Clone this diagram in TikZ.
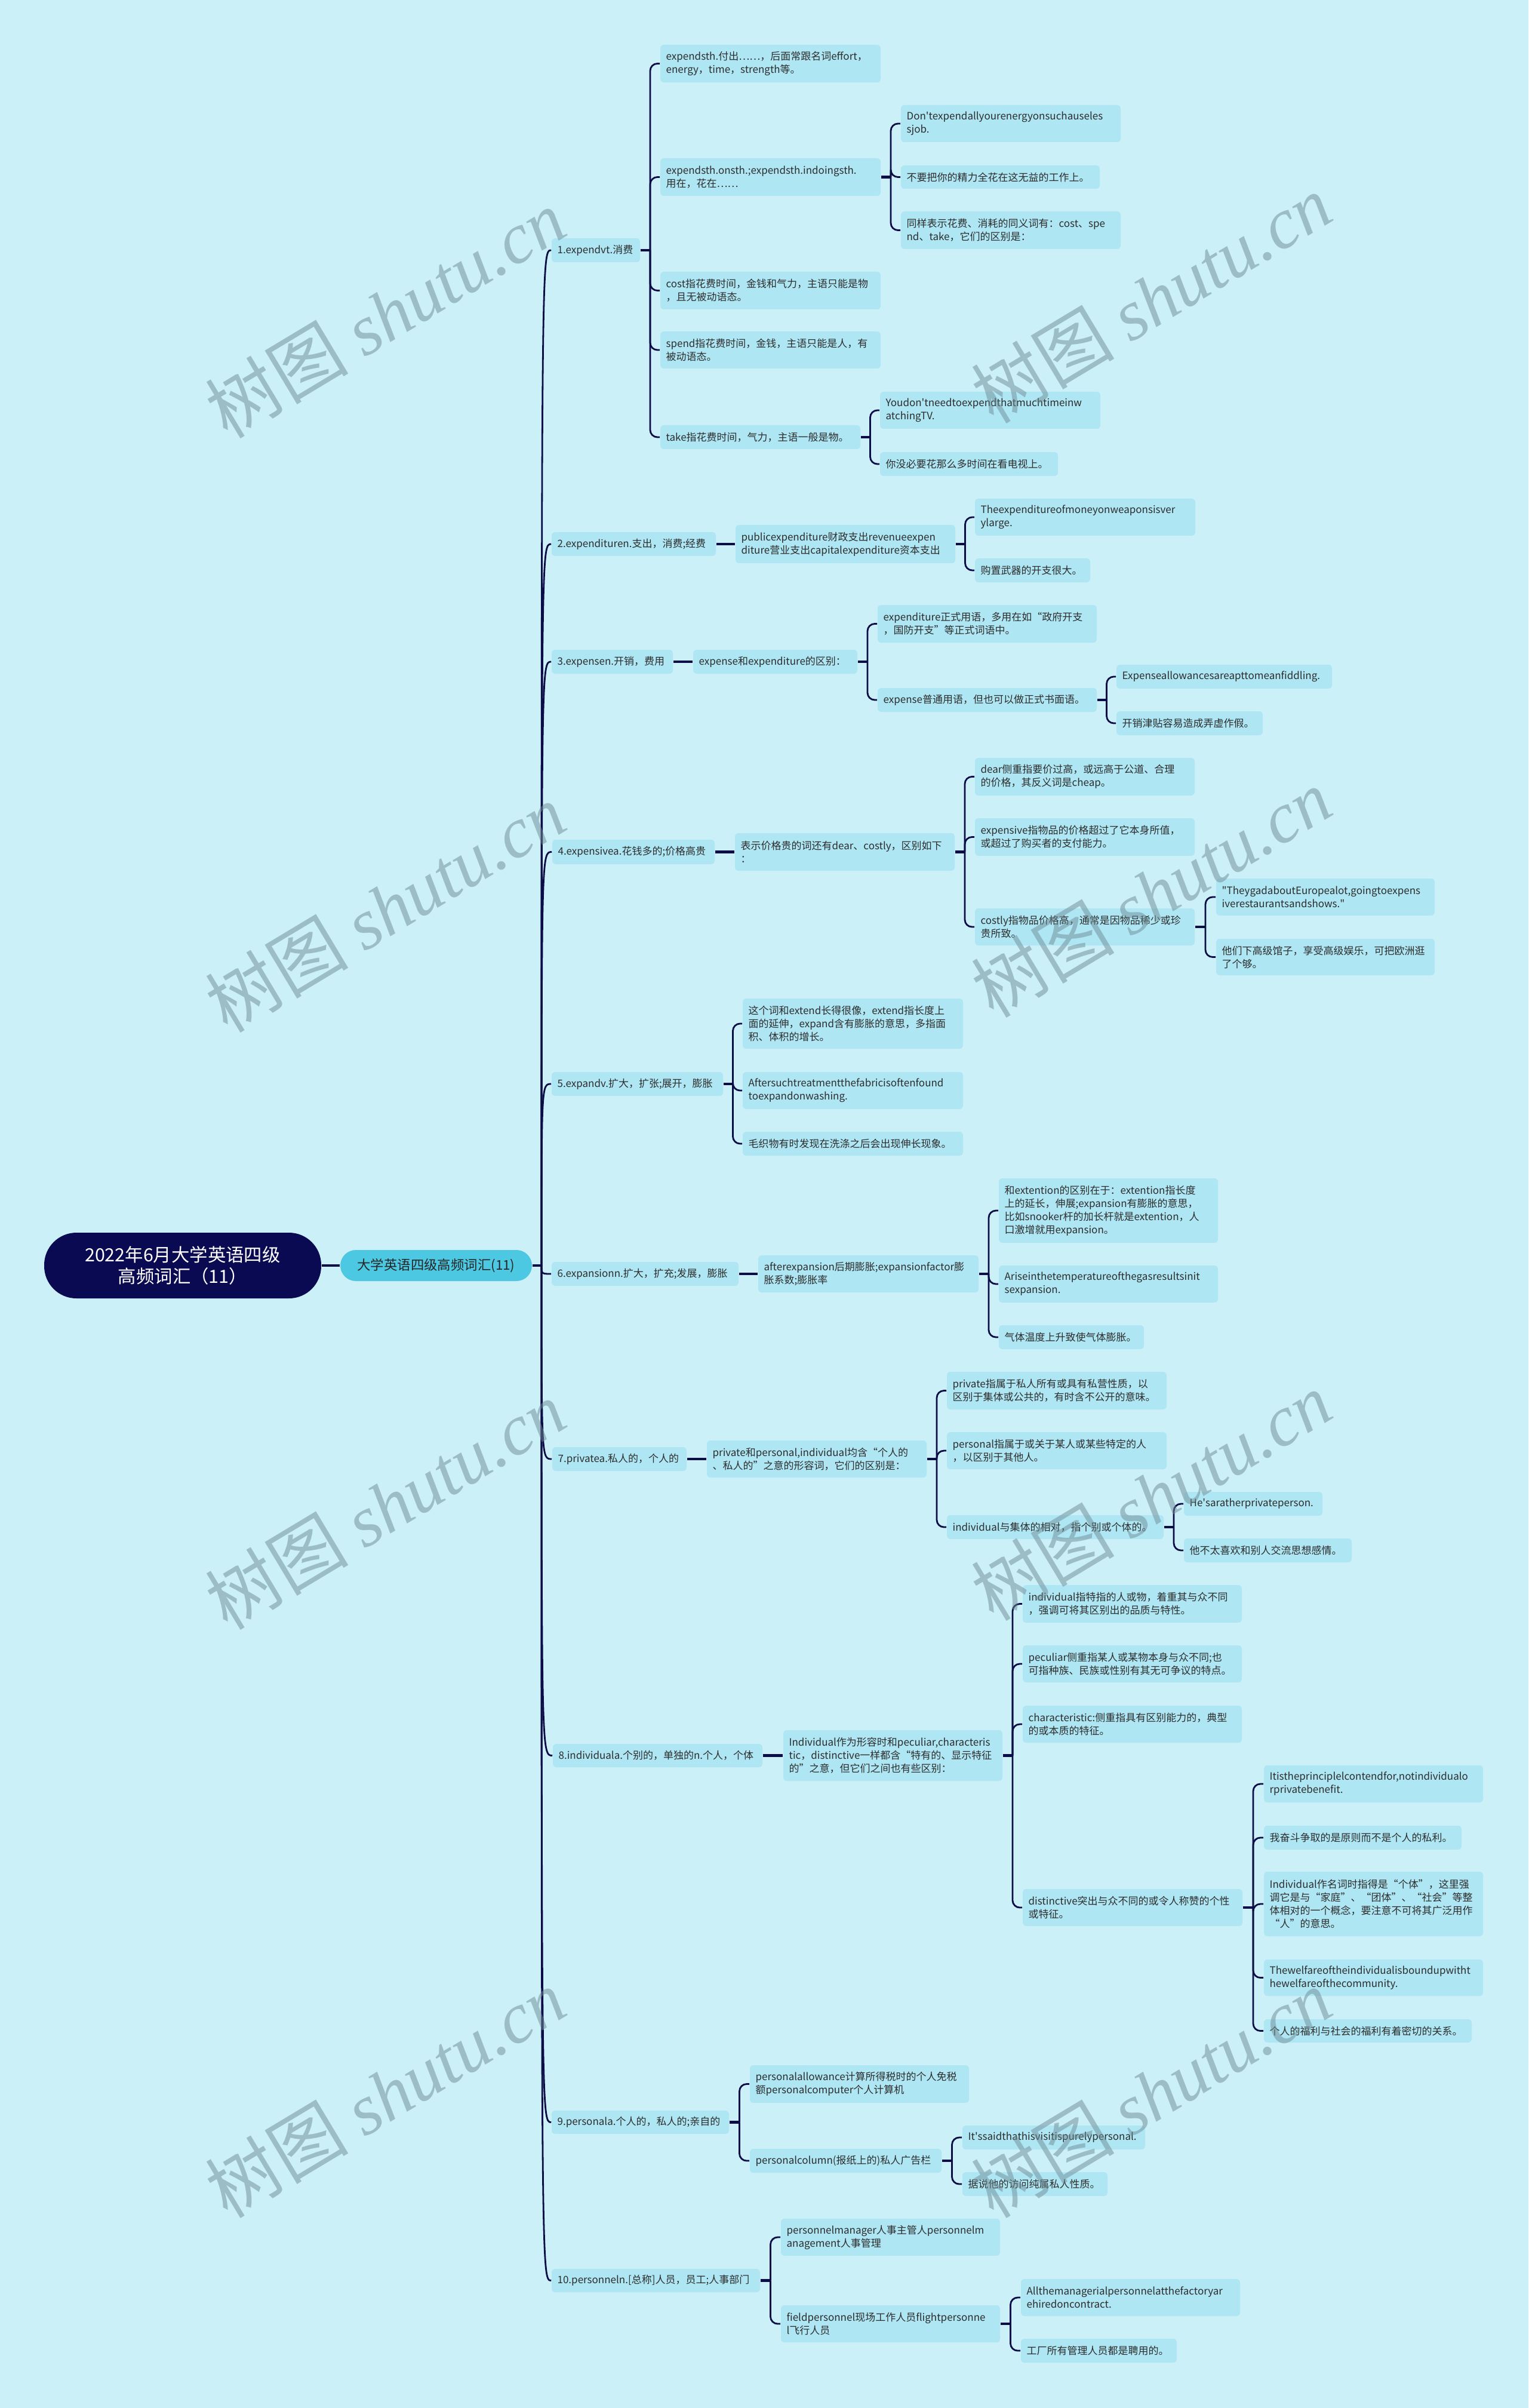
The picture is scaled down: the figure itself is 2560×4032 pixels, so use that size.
\documentclass[tikz,border=0pt]{standalone}
\usepackage{fontspec}
\setmainfont{Noto Sans CJK SC}
\newfontfamily\wmfont{Liberation Serif}
\usetikzlibrary{calc}
\definecolor{bg}{RGB}{203,240,248}
\definecolor{boxc}{RGB}{174,230,243}
\definecolor{mainc}{RGB}{77,200,226}
\definecolor{rootc}{RGB}{10,10,82}
\definecolor{linec}{RGB}{12,12,70}
\definecolor{txt}{RGB}{45,45,45}
\definecolor{wm}{RGB}{110,140,150}
\newcommand\ap{\textquotesingle}
\newcommand\dq{\textquotedbl}
\tikzset{
 box/.style={rectangle, rounded corners=1.5pt, fill=boxc, inner xsep=2.4pt, inner ysep=0pt, align=left, font=\fontsize{4.25}{5.5}\selectfont, text=txt},
 conn/.style={draw=linec, line width=0.7pt, rounded corners=3pt},
 stub/.style={draw=linec, line width=1.2pt},
 trunk/.style={draw=linec, line width=0.7pt},
 wmark/.style={rotate=31, text=wm, opacity=0.5, inner sep=0pt},
}
\newcommand\BoxAt[7][box]{%
 \pgfmathsetmacro\BWd{(#5-#3)*0.25}%
 \pgfmathsetmacro\BHt{(#6-#4)*0.25}%
 \pgfmathsetmacro\TWd{(#5-#3)*0.25-4.8}%
 \node[#1, minimum width=\BWd pt, minimum height=\BHt pt, text width=\TWd pt] (#2) at ({(#3+#5)/2},{(#4+#6)/2}) {#7};}
\newcommand\Link[2]{%
 \draw[stub] (#1.east) -- ($(#1.east)!.5!(#1.east -| #2.west)$);
 \draw[conn] ($(#1.east)!.5!(#1.east -| #2.west)$) |- (#2.west);}
\newcommand\LinkS[2]{\draw[stub] (#1.east) -- (#2.west);}
\newcommand\Trunk[1]{\draw[trunk] (T) .. controls (T |- #1.west) .. (#1.west);}
\newcommand\WM[2]{\node[wmark] at (#1,#2) {\fontsize{30}{30}\selectfont 树图 {\wmfont\itshape shutu.cn}};}
\begin{document}
\begin{tikzpicture}[x=0.25pt,y=-0.25pt]
\fill[bg] (0,0) rectangle (2560,4032);
\useasboundingbox (0,0) rectangle (2560,4032);

% root and main
\node[rectangle, rounded corners=13.5pt, fill=rootc, text=white, align=center, minimum width=116pt, minimum height=27.5pt, inner sep=0pt, font=\fontsize{7.6}{8.8}\selectfont] (root) at (306,2119) {2022年6月大学英语四级\\高频词汇（11）};
\node[rectangle, rounded corners=6.5pt, fill=mainc, text=black!85, minimum width=80.25pt, minimum height=13pt, inner sep=0pt, font=\fontsize{5.6}{6.5}\selectfont] (main) at (730.5,2119) {大学英语四级高频词汇(11)};
\draw[trunk, line width=0.8pt] (root.east) -- (main.west);
\coordinate (T) at (907,2119);
\draw[trunk, line width=0.8pt] (main.east) -- (T);

% level 1
\BoxAt{a1}{924}{399}{1072}{439}{1.expendvt.消费}
\BoxAt{a2}{924}{891}{1199}{931}{2.expendituren.支出，消费;经费}
\BoxAt{a3}{924}{1088}{1127}{1128}{3.expensen.开销，费用}
\BoxAt{a4}{925}{1406}{1197}{1447}{4.expensivea.花钱多的;价格高贵}
\BoxAt{a5}{924}{1795}{1211}{1835}{5.expandv.扩大，扩张;展开，膨胀}
\BoxAt{a6}{924}{2113}{1237}{2153}{6.expansionn.扩大，扩充;发展，膨胀}
\BoxAt{a7}{925}{2423}{1150}{2463}{7.privatea.私人的，个人的}
\BoxAt{a8}{926}{2920}{1277}{2959}{8.individuala.个别的，单独的n.个人，个体}
\BoxAt{a9}{924}{3534}{1221}{3573}{9.personala.个人的，私人的;亲自的}
\BoxAt{a10}{924}{3799}{1273}{3838}{10.personneln.[总称]人员，员工;人事部门}
\foreach \n in {a1,a2,a3,a4,a5,a6,a7,a8,a9,a10}{\Trunk{\n}}

% 1
\BoxAt{b11}{1106}{75}{1475}{138}{expendsth.付出……，后面常跟名词effort，\\energy，time，strength等。}
\BoxAt{b12}{1106}{265}{1475}{328}{expendsth.onsth.;expendsth.indoingsth.\\用在，花在……}
\BoxAt{c121}{1509}{176}{1877}{238}{Don\ap texpendallyourenergyonsuchauseles\\sjob.}
\BoxAt{c122}{1509}{277}{1842}{316}{不要把你的精力全花在这无益的工作上。}
\BoxAt{c123}{1509}{354}{1877}{417}{同样表示花费、消耗的同义词有：cost、spe\\nd、take，它们的区别是：}
\BoxAt{b13}{1106}{455}{1475}{518}{cost指花费时间，金钱和气力，主语只能是物\\，且无被动语态。}
\BoxAt{b14}{1106}{555}{1475}{617}{spend指花费时间，金钱，主语只能是人，有\\被动语态。}
\BoxAt{b15}{1106}{712}{1441}{752}{take指花费时间，气力，主语一般是物。}
\BoxAt{c151}{1474}{656}{1843}{718}{Youdon\ap tneedtoexpendthatmuchtimeinw\\atchingTV.}
\BoxAt{c152}{1474}{757}{1772}{797}{你没必要花那么多时间在看电视上。}
\foreach \n in {b11,b12,b13,b14,b15}{\Link{a1}{\n}}
\foreach \n in {c121,c122,c123}{\Link{b12}{\n}}
\foreach \n in {c151,c152}{\Link{b15}{\n}}

% 2
\BoxAt{b21}{1232}{879}{1600}{943}{publicexpenditure财政支出revenueexpen\\diture营业支出capitalexpenditure资本支出}
\BoxAt{c211}{1633}{835}{2002}{897}{Theexpenditureofmoneyonweaponsisver\\ylarge.}
\BoxAt{c212}{1633}{935}{1826}{975}{购置武器的开支很大。}
\LinkS{a2}{b21}
\foreach \n in {c211,c212}{\Link{b21}{\n}}

% 3
\BoxAt{b31}{1161}{1088}{1436}{1128}{expense和expenditure的区别：}
\BoxAt{c311}{1470}{1013}{1837}{1076}{expenditure正式用语，多用在如“政府开支\\，国防开支”等正式词语中。}
\BoxAt{c312}{1470}{1152}{1837}{1192}{expense普通用语，但也可以做正式书面语。}
\BoxAt{d3121}{1870}{1113}{2231}{1153}{Expenseallowancesareapttomeanfiddling.}
\BoxAt{d3122}{1870}{1191}{2115}{1231}{开销津贴容易造成弄虚作假。}
\LinkS{a3}{b31}
\foreach \n in {c311,c312}{\Link{b31}{\n}}
\foreach \n in {d3121,d3122}{\Link{c312}{\n}}

% 4
\BoxAt{b41}{1231}{1395}{1599}{1458}{表示价格贵的词还有dear、costly，区别如下\\：}
\BoxAt{c411}{1633}{1269}{2001}{1332}{dear侧重指要价过高，或远高于公道、合理\\的价格，其反义词是cheap。}
\BoxAt{c412}{1633}{1370}{2001}{1433}{expensive指物品的价格超过了它本身所值，\\或超过了购买者的支付能力。}
\BoxAt{c413}{1633}{1521}{2001}{1583}{costly指物品价格高，通常是因物品稀少或珍\\贵所致。}
\BoxAt{d4131}{2037}{1471}{2403}{1533}{\dq TheygadaboutEuropealot,goingtoexpens\\iverestaurantsandshows.\dq}
\BoxAt{d4132}{2037}{1572}{2403}{1633}{他们下高级馆子，享受高级娱乐，可把欧洲逛\\了个够。}
\LinkS{a4}{b41}
\foreach \n in {c411,c412,c413}{\Link{b41}{\n}}
\foreach \n in {d4131,d4132}{\Link{c413}{\n}}

% 5
\BoxAt{b51}{1244}{1672}{1613}{1756}{这个词和extend长得很像，extend指长度上\\面的延伸，expand含有膨胀的意思，多指面\\积、体积的增长。}
\BoxAt{b52}{1244}{1795}{1613}{1857}{Aftersuchtreatmentthefabricisoftenfound\\toexpandonwashing.}
\BoxAt{b53}{1244}{1895}{1613}{1935}{毛织物有时发现在洗涤之后会出现伸长现象。}
\foreach \n in {b51,b52,b53}{\Link{a5}{\n}}

% 6
\BoxAt{b61}{1270}{2102}{1639}{2164}{afterexpansion后期膨胀;expansionfactor膨\\胀系数;膨胀率}
\BoxAt{c611}{1673}{1973}{2040}{2081}{和extention的区别在于：extention指长度\\上的延长，伸展;expansion有膨胀的意思，\\比如snooker杆的加长杆就是extention，人\\口激增就用expansion。}
\BoxAt{c612}{1673}{2119}{2040}{2181}{Ariseinthetemperatureofthegasresultsinit\\sexpansion.}
\BoxAt{c613}{1673}{2219}{1916}{2259}{气体温度上升致使气体膨胀。}
\LinkS{a6}{b61}
\foreach \n in {c611,c612,c613}{\Link{b61}{\n}}

% 7
\BoxAt{b71}{1184}{2412}{1552}{2474}{private和personal,individual均含“个人的\\、私人的”之意的形容词，它们的区别是：}
\BoxAt{c711}{1586}{2297}{1954}{2360}{private指属于私人所有或具有私营性质，以\\区别于集体或公共的，有时含不公开的意味。}
\BoxAt{c712}{1586}{2398}{1954}{2460}{personal指属于或关于某人或某些特定的人\\，以区别于其他人。}
\BoxAt{c713}{1586}{2537}{1949}{2577}{individual与集体的相对，指个别或个体的。}
\BoxAt{d7131}{1983}{2498}{2215}{2538}{He\ap saratherprivateperson.}
\BoxAt{d7132}{1983}{2576}{2264}{2616}{他不太喜欢和别人交流思想感情。}
\LinkS{a7}{b71}
\foreach \n in {c711,c712,c713}{\Link{b71}{\n}}
\foreach \n in {d7131,d7132}{\Link{c713}{\n}}

% 8
\BoxAt{b81}{1312}{2897}{1679}{2982}{Individual作为形容时和peculiar,characteris\\tic，distinctive一样都含“特有的、显示特征\\的”之意，但它们之间也有些区别：}
\BoxAt{c811}{1713}{2654}{2080}{2717}{individual指特指的人或物，着重其与众不同\\，强调可将其区别出的品质与特性。}
\BoxAt{c812}{1713}{2755}{2080}{2817}{peculiar侧重指某人或某物本身与众不同;也\\可指种族、民族或性别有其无可争议的特点。}
\BoxAt{c813}{1713}{2856}{2080}{2918}{characteristic:侧重指具有区别能力的，典型\\的或本质的特征。}
\BoxAt{c814}{1713}{3163}{2081}{3225}{distinctive突出与众不同的或令人称赞的个性\\或特征。}
\BoxAt{d8141}{2117}{2956}{2484}{3018}{Itistheprinciplelcontendfor,notindividualo\\rprivatebenefit.}
\BoxAt{d8142}{2117}{3057}{2448}{3097}{我奋斗争取的是原则而不是个人的私利。}
\BoxAt{d8143}{2117}{3134}{2484}{3242}{Individual作名词时指得是“个体”，这里强\\调它是与“家庭”、“团体”、“社会”等整\\体相对的一个概念，要注意不可将其广泛用作\\“人”的意思。}
\BoxAt{d8144}{2117}{3281}{2484}{3342}{Thewelfareoftheindividualisboundupwitht\\hewelfareofthecommunity.}
\BoxAt{d8145}{2117}{3381}{2465}{3420}{个人的福利与社会的福利有着密切的关系。}
\LinkS{a8}{b81}
\foreach \n in {c811,c812,c813,c814}{\Link{b81}{\n}}
\foreach \n in {d8141,d8142,d8143,d8144,d8145}{\Link{c814}{\n}}

% 9
\BoxAt{b91}{1256}{3458}{1623}{3521}{personalallowance计算所得税时的个人免税\\额personalcomputer个人计算机}
\BoxAt{b92}{1256}{3598}{1577}{3638}{personalcolumn(报纸上的)私人广告栏}
\BoxAt{c921}{1612}{3559}{1918}{3599}{It\ap ssaidthathisvisitispurelypersonal.}
\BoxAt{c922}{1612}{3637}{1855}{3677}{据说他的访问纯属私人性质。}
\foreach \n in {b91,b92}{\Link{a9}{\n}}
\foreach \n in {c921,c922}{\Link{b92}{\n}}

% 10
\BoxAt{b101}{1308}{3715}{1675}{3777}{personnelmanager人事主管人personnelm\\anagement人事管理}
\BoxAt{b102}{1308}{3860}{1675}{3922}{fieldpersonnel现场工作人员flightpersonne\\l飞行人员}
\BoxAt{c1021}{1710}{3816}{2077}{3878}{Allthemanagerialpersonnelatthefactoryar\\ehiredoncontract.}
\BoxAt{c1022}{1710}{3916}{1971}{3956}{工厂所有管理人员都是聘用的。}
\foreach \n in {b101,b102}{\Link{a10}{\n}}
\foreach \n in {c1021,c1022}{\Link{b102}{\n}}

% watermarks
\WM{645}{525}
\WM{1928}{500}
\WM{645}{1520}
\WM{1928}{1495}
\WM{645}{2520}
\WM{1928}{2505}
\WM{645}{3505}
\WM{1928}{3505}
\end{tikzpicture}
\end{document}
